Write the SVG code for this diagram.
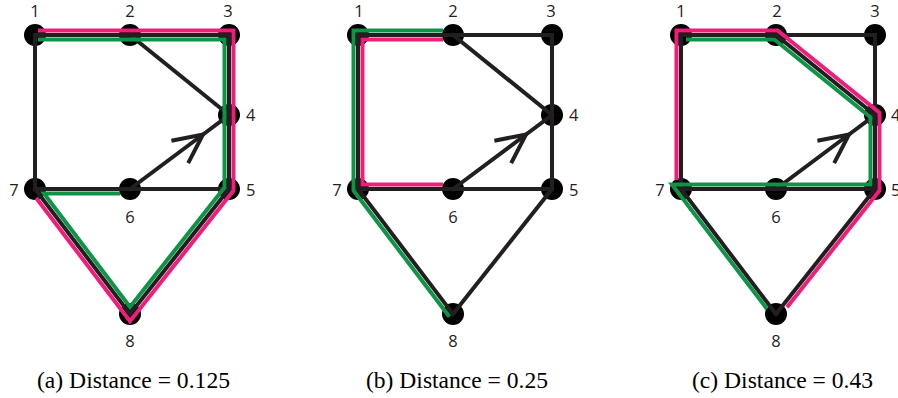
<svg xmlns="http://www.w3.org/2000/svg" width="898" height="398" viewBox="0 0 898 398">
<style>
.bg{fill:#ffffff}
.node{fill:#000000}
.lbl{font-family:"Open Sans","Liberation Sans",sans-serif;font-size:16.5px;fill:#231f20}
.mid{text-anchor:middle}
.edge{fill:none;stroke:#231f20;stroke-width:4;stroke-linecap:square}
.pink{fill:none;stroke:#ed1f7a;stroke-width:4;stroke-linejoin:miter;stroke-linecap:butt}
.green{fill:none;stroke:#0f9447;stroke-width:4;stroke-linejoin:miter;stroke-linecap:butt}
.cap{font-family:"Liberation Serif","Times New Roman",serif;font-size:23px;fill:#000000}
</style>
<defs>
<marker id="chev" markerUnits="userSpaceOnUse" markerWidth="40" markerHeight="40" viewBox="-35 -20 40 40" refX="0" refY="0" orient="auto" overflow="visible">
<path d="M-29,-14 L0,0 L-29,14" fill="none" stroke="#231f20" stroke-width="4"/>
</marker>
</defs>
<rect class="bg" x="0" y="0" width="898" height="398"/>

<!-- Panel (a) -->
<g id="panel-a">
<g id="a-n1"><circle class="node" cx="35" cy="35" r="11"/><text class="lbl mid" x="35" y="17">1</text></g>
<g id="a-n2"><circle class="node" cx="130" cy="35" r="11"/><text class="lbl mid" x="130" y="17">2</text></g>
<g id="a-n3"><circle class="node" cx="229" cy="35" r="11"/><text class="lbl mid" x="228" y="17">3</text></g>
<g id="a-n4"><circle class="node" cx="229" cy="115" r="11"/><text class="lbl" x="246" y="121">4</text></g>
<g id="a-n5"><circle class="node" cx="229" cy="189" r="11"/><text class="lbl" x="246" y="196">5</text></g>
<g id="a-n6"><circle class="node" cx="130" cy="189" r="11"/><text class="lbl mid" x="130" y="223">6</text></g>
<g id="a-n7"><circle class="node" cx="35" cy="189" r="11"/><text class="lbl mid" x="14" y="196">7</text></g>
<g id="a-n8"><circle class="node" cx="130" cy="314" r="11"/><text class="lbl mid" x="130" y="347">8</text></g>
<g id="a-connectors">
<path class="edge" d="M35,35 L229,35"/>
<path class="edge" d="M229,35 L229,189"/>
<path class="edge" d="M130,35 L229,115"/>
<path class="edge" d="M35,35 L35,189"/>
<path class="edge" d="M35,189 L229,189"/>
<path class="edge" d="M35,189 L130,314"/>
<path class="edge" d="M130,314 L229,189"/>
<path class="edge" d="M130,189 L203,134.5 L229,115" marker-mid="url(#chev)"/>
<path class="pink" d="M38,30.5 L233.5,30.5 L233.5,190.5 L130,321.3 L36.2,198"/>
<path class="green" d="M38,39.5 L224.5,39.5 L224.5,187.5 L130,307 L44,193.5 L120,193.5"/>
</g>
</g>

<!-- Panel (b) -->
<g id="panel-b" transform="translate(323,0)">
<g id="b-n1"><circle class="node" cx="35" cy="35" r="11"/><text class="lbl mid" x="36" y="17">1</text></g>
<g id="b-n2"><circle class="node" cx="130" cy="35" r="11"/><text class="lbl mid" x="130" y="17">2</text></g>
<g id="b-n3"><circle class="node" cx="229" cy="35" r="11"/><text class="lbl mid" x="228" y="17">3</text></g>
<g id="b-n4"><circle class="node" cx="229" cy="115" r="11"/><text class="lbl" x="246" y="121">4</text></g>
<g id="b-n5"><circle class="node" cx="229" cy="189" r="11"/><text class="lbl" x="246" y="196">5</text></g>
<g id="b-n6"><circle class="node" cx="130" cy="189" r="11"/><text class="lbl mid" x="130" y="223">6</text></g>
<g id="b-n7"><circle class="node" cx="35" cy="189" r="11"/><text class="lbl mid" x="14" y="196">7</text></g>
<g id="b-n8"><circle class="node" cx="130" cy="314" r="11"/><text class="lbl mid" x="130" y="347">8</text></g>
<g id="b-connectors">
<path class="edge" d="M35,35 L229,35"/>
<path class="edge" d="M229,35 L229,189"/>
<path class="edge" d="M130,35 L229,115"/>
<path class="edge" d="M35,35 L35,189"/>
<path class="edge" d="M35,189 L229,189"/>
<path class="edge" d="M35,189 L130,314"/>
<path class="edge" d="M130,314 L229,189"/>
<path class="edge" d="M130,189 L203,134.5 L229,115" marker-mid="url(#chev)"/>
<path class="pink" d="M120,39.5 L39.5,39.5 L39.5,184.5 L120,184.5"/>
<path class="green" d="M120,30.5 L30.5,30.5 L30.5,190.5 L126.4,316.7"/>
</g>
</g>

<!-- Panel (c) -->
<g id="panel-c" transform="translate(646,0)">
<g id="c-n1"><circle class="node" cx="35" cy="35" r="11"/><text class="lbl mid" x="35" y="17">1</text></g>
<g id="c-n2"><circle class="node" cx="130" cy="35" r="11"/><text class="lbl mid" x="131" y="17">2</text></g>
<g id="c-n3"><circle class="node" cx="229" cy="35" r="11"/><text class="lbl mid" x="229" y="17">3</text></g>
<g id="c-n4"><circle class="node" cx="229" cy="115" r="11"/><text class="lbl" x="245" y="121">4</text></g>
<g id="c-n5"><circle class="node" cx="229" cy="189" r="11"/><text class="lbl" x="245" y="196">5</text></g>
<g id="c-n6"><circle class="node" cx="130" cy="189" r="11"/><text class="lbl mid" x="130" y="223">6</text></g>
<g id="c-n7"><circle class="node" cx="35" cy="189" r="11"/><text class="lbl mid" x="14" y="196">7</text></g>
<g id="c-n8"><circle class="node" cx="130" cy="314" r="11"/><text class="lbl mid" x="130" y="347">8</text></g>
<g id="c-connectors">
<path class="edge" d="M35,35 L229,35"/>
<path class="edge" d="M229,35 L229,189"/>
<path class="edge" d="M130,35 L229,115"/>
<path class="edge" d="M35,35 L35,189"/>
<path class="edge" d="M35,189 L229,189"/>
<path class="edge" d="M35,189 L130,314"/>
<path class="edge" d="M130,314 L229,189"/>
<path class="edge" d="M130,189 L203,134.5 L229,115" marker-mid="url(#chev)"/>
<path class="pink" d="M30.5,180 L30.5,30.5 L131.6,30.5 L233.5,112.8 L233.5,190.5 L141,307.3"/>
<path class="green" d="M40,39.5 L128.4,39.5 L224.5,117.1 L224.5,184.5 L26,184.5 L121,309"/>
</g>
</g>

<!-- Captions -->
<text class="cap" x="37" y="388" textLength="193" lengthAdjust="spacingAndGlyphs">(a) Distance = 0.125</text>
<text class="cap" x="366" y="388" textLength="182" lengthAdjust="spacingAndGlyphs">(b) Distance = 0.25</text>
<text class="cap" x="692" y="388" textLength="181" lengthAdjust="spacingAndGlyphs">(c) Distance = 0.43</text>
</svg>
